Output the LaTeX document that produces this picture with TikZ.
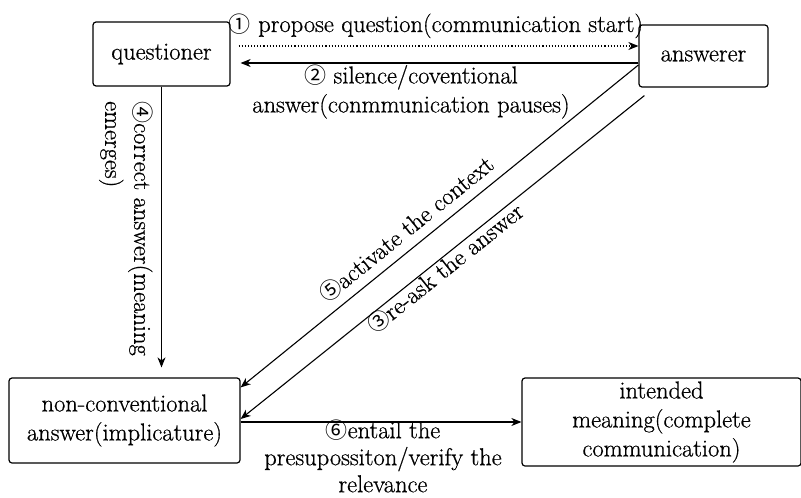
\documentclass[tikz,border=0pt]{standalone}
\usepackage{fontspec}
\setmainfont{Latin Modern Roman}[FakeBold=0.6]
\newfontfamily\cjkf{Noto Sans CJK SC}
\newcommand\cjk{\cjkf\fontsize{22}{29}\selectfont}
\usetikzlibrary{arrows.meta,calc}
\begin{document}
\begin{tikzpicture}[x=1pt,y=-1pt,
  font=\rmfamily\fontsize{24.5}{29}\selectfont,
  box/.style={draw, rounded corners=3pt, line width=1.2pt, align=center, inner sep=0pt},
  lbl/.style={inner sep=0pt, align=center},
  arr/.style={line width=1.1pt, -{Stealth[length=10pt,width=8pt,inset=3pt]}}]
\useasboundingbox (0,0) rectangle (801,498);
% boxes
\node[box, minimum width=137pt, minimum height=64pt] (questioner) at (161.5,54) {questioner};
\node[box, minimum width=129pt, minimum height=62pt] (answerer) at (703.5,56) {answerer};
\node[box, minimum width=231pt, minimum height=85pt] (nonconv) at (124.5,420.5) {non-conventional\\answer(implicature)};
\node[box, minimum width=279pt, minimum height=88pt] (intended) at (661.5,422) {intended\\meaning(complete\\communication)};
% connectors
\draw[arr, dotted] ([shift={(8pt,8pt)}]questioner.east) -- ([yshift=10pt]answerer.west);
\draw[arr] ([yshift=-7pt]answerer.west) -- ([shift={(10pt,-9pt)}]questioner.east);
\draw[arr] (questioner.south) -- ([yshift=10pt]questioner.south |- nonconv.north);
\draw[arr] ([yshift=-9pt]answerer.west) -- ([yshift=-10pt]nonconv.north east);
\draw[arr] ([shift={(6pt,-8pt)}]answerer.south west) -- ([yshift=1.5pt]nonconv.east);
\draw[arr] (nonconv.east |- intended.west) -- (intended.west);
% labels
\node[lbl, anchor=base] (l1) at (436,32) {{\cjk ①} propose question(communication start)};
\node[lbl] (l2) at (411,91.7) {{\cjk ②} silence/coventional\\answer(conmmunication pauses)};
\node[lbl, rotate=-90, align=left, anchor=north west] (l4) at (153,101) {{\cjk ④}correct answer(meaning\\emerges)};
\node[lbl, rotate=39] (l5) at (406,229) {{\cjk ⑤}activate the context};
\node[lbl, rotate=38.7] (l3) at (445,268) {{\cjk ③}re-ask the answer};
\node[lbl, font=\rmfamily\fontsize{24.5}{27}\selectfont] (l6) at (383,456) {{\cjk ⑥}entail the\\presupossiton/verify the\\relevance};
\end{tikzpicture}
\end{document}
